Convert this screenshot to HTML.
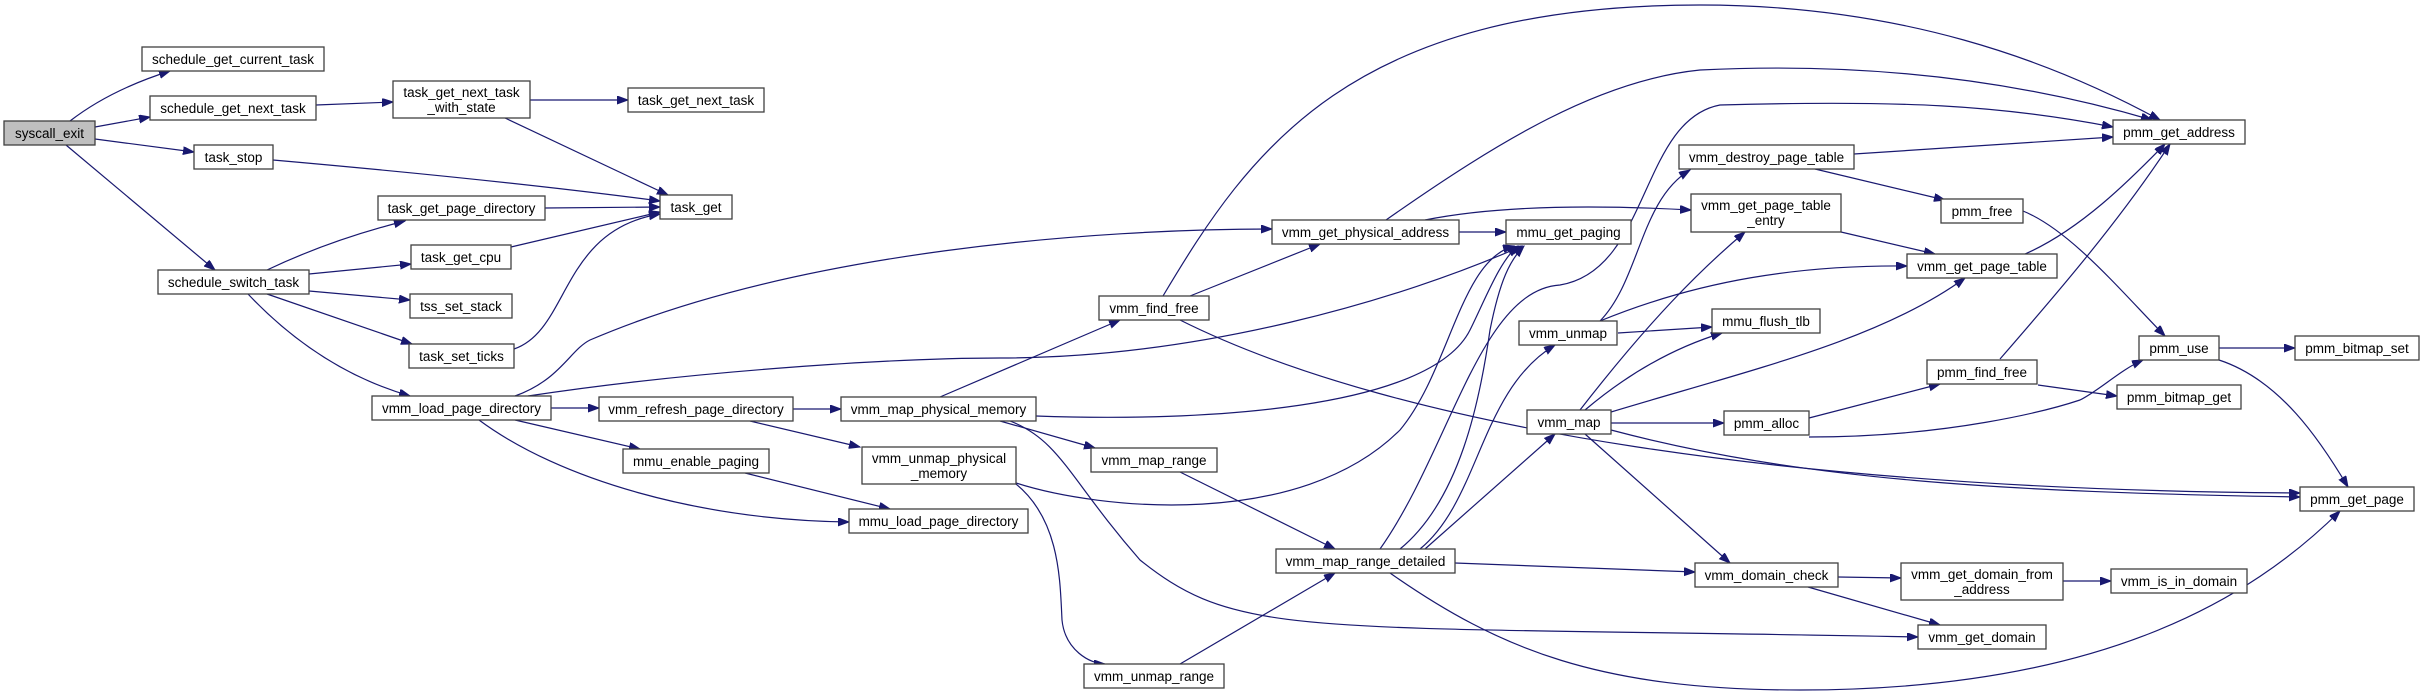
<!DOCTYPE html>
<html><head><meta charset="utf-8"><style>
html,body{margin:0;padding:0;background:#fff;}
svg{display:block;}
text{font-family:"Liberation Sans",sans-serif;font-size:13.5px;fill:#000;}
.n{fill:#fff;stroke:#404040;stroke-width:1.3;}
.e{fill:none;stroke:#191970;stroke-width:1.2;}
</style></head><body>
<svg width="2424" height="694" viewBox="0 0 2424 694" xmlns="http://www.w3.org/2000/svg">
<defs><marker id="a" markerUnits="userSpaceOnUse" markerWidth="12" markerHeight="9" refX="11" refY="4" orient="auto"><path d="M0,0 L11,4 L0,8 z" fill="#191970" stroke="#191970"/></marker></defs>
<g class="e" marker-end="url(#a)">
<path d="M70,121 Q110,90 170,71"/>
<path d="M95,127 L150,117"/>
<path d="M95,139 L194,152"/>
<path d="M66,145 L215,270"/>
<path d="M316,105 L393,102"/>
<path d="M530,100 L628,100"/>
<path d="M505,118 L668,195"/>
<path d="M273,160 Q500,180 660,201"/>
<path d="M545,208 L660,207"/>
<path d="M511,247 L660,212"/>
<path d="M514,349 C570,330 560,230 660,214"/>
<path d="M267,270 Q330,240 405,221"/>
<path d="M309,274 L411,264"/>
<path d="M309,291 L410,300"/>
<path d="M267,294 L412,344"/>
<path d="M248,294 Q320,370 410,396"/>
<path d="M515,396 C560,380 570,350 590,340 C800,250 1100,229 1272,229"/>
<path d="M528,396 C700,370 900,358 1000,358 C1200,358 1400,300 1522,246"/>
<path d="M551,408 L599,408"/>
<path d="M515,420 L640,449"/>
<path d="M479,420 C560,480 700,520 849,522"/>
<path d="M793,409 L841,409"/>
<path d="M750,421 L860,447"/>
<path d="M745,473 L890,509"/>
<path d="M940,397 L1120,320"/>
<path d="M1036,416 C1200,422 1430,410 1470,330 C1485,300 1500,260 1518,246"/>
<path d="M1000,421 L1095,448"/>
<path d="M1010,421 C1060,440 1070,480 1140,560 C1240,640 1300,625 1918,637"/>
<path d="M1016,483 C1100,510 1300,530 1400,430 C1450,370 1460,260 1514,246"/>
<path d="M1016,484 C1060,520 1060,580 1062,620 C1065,650 1090,664 1105,664"/>
<path d="M1180,472 L1335,549"/>
<path d="M1180,664 L1335,573"/>
<path d="M1163,296 C1250,150 1350,5 1700,5 C1900,5 2050,60 2160,120"/>
<path d="M1190,296 L1320,244"/>
<path d="M1180,320 C1400,430 1800,490 2300,493"/>
<path d="M1459,232 L1506,232"/>
<path d="M1386,220 C1500,140 1600,80 1700,70 C1900,60 2050,90 2152,120"/>
<path d="M1425,220 C1500,205 1600,205 1691,210"/>
<path d="M1400,549 C1460,500 1480,400 1490,330 C1500,280 1510,260 1524,246"/>
<path d="M1380,549 C1450,450 1480,290 1560,285 C1650,270 1640,120 1720,105 C1900,100 2000,105 2113,127"/>
<path d="M1420,549 C1480,500 1480,390 1555,345"/>
<path d="M1425,549 L1555,434"/>
<path d="M1455,563 L1695,572"/>
<path d="M1390,573 C1500,650 1600,690 1800,690 C2100,690 2250,600 2340,511"/>
<path d="M1600,321 C1640,280 1640,200 1690,170"/>
<path d="M1600,321 C1700,280 1800,265 1907,266"/>
<path d="M1618,333 L1712,327"/>
<path d="M1580,410 C1650,320 1700,270 1745,232"/>
<path d="M1585,410 Q1650,355 1722,333"/>
<path d="M1611,412 C1750,370 1880,340 1965,278"/>
<path d="M1611,423 L1724,423"/>
<path d="M1585,434 L1730,563"/>
<path d="M1611,430 C1800,480 2000,492 2300,497"/>
<path d="M1854,154 L2113,137"/>
<path d="M1815,169 L1945,200"/>
<path d="M1841,232 L1935,254"/>
<path d="M2025,254 C2080,230 2130,180 2165,144"/>
<path d="M2023,211 C2070,230 2120,290 2165,336"/>
<path d="M2000,359 C2060,290 2120,220 2170,144"/>
<path d="M2038,385 L2117,396"/>
<path d="M1809,418 L1940,384"/>
<path d="M1809,437 C1950,437 2050,410 2080,400 C2100,390 2120,370 2143,360"/>
<path d="M2219,348 L2295,348"/>
<path d="M2219,360 C2280,380 2320,440 2348,487"/>
<path d="M1838,577 L1901,578"/>
<path d="M1808,587 L1940,625"/>
<path d="M2063,581 L2111,581"/>
</g>
<g>
<rect class="n" x="4" y="121" width="91" height="24" style="fill:#bfbfbf"/><text x="49.5" y="138" text-anchor="middle">syscall_exit</text>
<rect class="n" x="142" y="47" width="182" height="24"/><text x="233" y="64" text-anchor="middle">schedule_get_current_task</text>
<rect class="n" x="150" y="96" width="166" height="24"/><text x="233" y="113" text-anchor="middle">schedule_get_next_task</text>
<rect class="n" x="393" y="81" width="137" height="37"/><text x="461.5" y="97" text-anchor="middle">task_get_next_task</text><text x="461.5" y="112" text-anchor="middle">_with_state</text>
<rect class="n" x="628" y="88" width="136" height="24"/><text x="696" y="105" text-anchor="middle">task_get_next_task</text>
<rect class="n" x="194" y="145" width="79" height="24"/><text x="233.5" y="162" text-anchor="middle">task_stop</text>
<rect class="n" x="660" y="195" width="72" height="24"/><text x="696" y="212" text-anchor="middle">task_get</text>
<rect class="n" x="378" y="196" width="167" height="24"/><text x="461.5" y="213" text-anchor="middle">task_get_page_directory</text>
<rect class="n" x="411" y="245" width="100" height="24"/><text x="461" y="262" text-anchor="middle">task_get_cpu</text>
<rect class="n" x="410" y="294" width="102" height="24"/><text x="461" y="311" text-anchor="middle">tss_set_stack</text>
<rect class="n" x="158" y="270" width="151" height="24"/><text x="233.5" y="287" text-anchor="middle">schedule_switch_task</text>
<rect class="n" x="409" y="344" width="105" height="24"/><text x="461.5" y="361" text-anchor="middle">task_set_ticks</text>
<rect class="n" x="372" y="396" width="179" height="24"/><text x="461.5" y="413" text-anchor="middle">vmm_load_page_directory</text>
<rect class="n" x="599" y="397" width="194" height="24"/><text x="696" y="414" text-anchor="middle">vmm_refresh_page_directory</text>
<rect class="n" x="841" y="397" width="195" height="24"/><text x="938.5" y="414" text-anchor="middle">vmm_map_physical_memory</text>
<rect class="n" x="623" y="449" width="146" height="24"/><text x="696" y="466" text-anchor="middle">mmu_enable_paging</text>
<rect class="n" x="862" y="447" width="154" height="37"/><text x="939" y="463" text-anchor="middle">vmm_unmap_physical</text><text x="939" y="478" text-anchor="middle">_memory</text>
<rect class="n" x="849" y="509" width="179" height="24"/><text x="938.5" y="526" text-anchor="middle">mmu_load_page_directory</text>
<rect class="n" x="1099" y="296" width="110" height="24"/><text x="1154" y="313" text-anchor="middle">vmm_find_free</text>
<rect class="n" x="1091" y="448" width="126" height="24"/><text x="1154" y="465" text-anchor="middle">vmm_map_range</text>
<rect class="n" x="1276" y="549" width="179" height="24"/><text x="1365.5" y="566" text-anchor="middle">vmm_map_range_detailed</text>
<rect class="n" x="1084" y="664" width="140" height="24"/><text x="1154" y="681" text-anchor="middle">vmm_unmap_range</text>
<rect class="n" x="1272" y="220" width="187" height="24"/><text x="1365.5" y="237" text-anchor="middle">vmm_get_physical_address</text>
<rect class="n" x="1506" y="220" width="125" height="24"/><text x="1568.5" y="237" text-anchor="middle">mmu_get_paging</text>
<rect class="n" x="1519" y="321" width="98" height="24"/><text x="1568" y="338" text-anchor="middle">vmm_unmap</text>
<rect class="n" x="1527" y="410" width="84" height="24"/><text x="1569" y="427" text-anchor="middle">vmm_map</text>
<rect class="n" x="1679" y="145" width="175" height="24"/><text x="1766.5" y="162" text-anchor="middle">vmm_destroy_page_table</text>
<rect class="n" x="1691" y="194" width="150" height="38"/><text x="1766" y="210" text-anchor="middle">vmm_get_page_table</text><text x="1766" y="225" text-anchor="middle">_entry</text>
<rect class="n" x="1941" y="199" width="82" height="24"/><text x="1982" y="216" text-anchor="middle">pmm_free</text>
<rect class="n" x="1907" y="254" width="150" height="24"/><text x="1982" y="271" text-anchor="middle">vmm_get_page_table</text>
<rect class="n" x="1712" y="309" width="108" height="24"/><text x="1766" y="326" text-anchor="middle">mmu_flush_tlb</text>
<rect class="n" x="1927" y="360" width="110" height="24"/><text x="1982" y="377" text-anchor="middle">pmm_find_free</text>
<rect class="n" x="1724" y="411" width="85" height="24"/><text x="1766.5" y="428" text-anchor="middle">pmm_alloc</text>
<rect class="n" x="1695" y="563" width="143" height="24"/><text x="1766.5" y="580" text-anchor="middle">vmm_domain_check</text>
<rect class="n" x="2113" y="120" width="132" height="24"/><text x="2179" y="137" text-anchor="middle">pmm_get_address</text>
<rect class="n" x="2139" y="336" width="80" height="24"/><text x="2179" y="353" text-anchor="middle">pmm_use</text>
<rect class="n" x="2295" y="336" width="124" height="24"/><text x="2357" y="353" text-anchor="middle">pmm_bitmap_set</text>
<rect class="n" x="2117" y="385" width="124" height="24"/><text x="2179" y="402" text-anchor="middle">pmm_bitmap_get</text>
<rect class="n" x="2300" y="487" width="114" height="24"/><text x="2357" y="504" text-anchor="middle">pmm_get_page</text>
<rect class="n" x="1901" y="563" width="162" height="37"/><text x="1982" y="579" text-anchor="middle">vmm_get_domain_from</text><text x="1982" y="594" text-anchor="middle">_address</text>
<rect class="n" x="2111" y="569" width="136" height="24"/><text x="2179" y="586" text-anchor="middle">vmm_is_in_domain</text>
<rect class="n" x="1918" y="625" width="128" height="24"/><text x="1982" y="642" text-anchor="middle">vmm_get_domain</text>
</g>
</svg>
</body></html>
